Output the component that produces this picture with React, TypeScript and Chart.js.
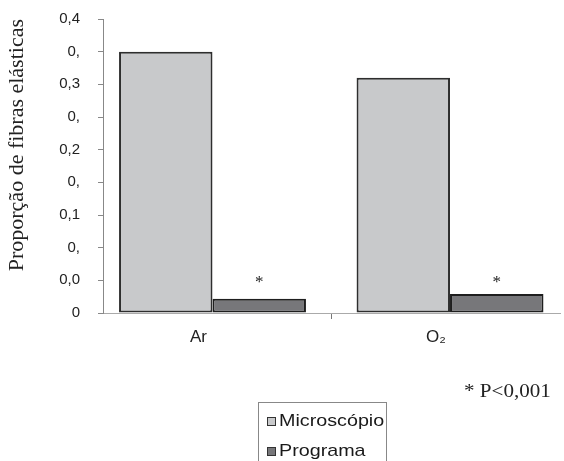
import React, { useEffect, useRef } from "react";
import { Chart, registerables } from "chart.js";

Chart.register(...registerables);

const categories = ["Ar", "O₂"];
const seriesNames = ["Microscópio", "Programa"];
const microscopio = [0.4, 0.36];
const programa = [0.022, 0.029];
const starValues = [0.05, 0.05];
const yTickLabels = ["0", "0,0", "0,", "0,1", "0,", "0,2", "0,", "0,3", "0,", "0,4"];
const noteText = "* P<0,001";
const yTitle = "Proporção de fibras elásticas";

const colors = ["#c8c9cb", "#77777a"];

export default function App() {
  const ref = useRef<HTMLCanvasElement | null>(null);

  useEffect(() => {
    document.body.style.margin = "0";
    const canvas = ref.current;
    if (!canvas) return;

    const starPlugin = {
      id: "stars",
      afterDatasetsDraw(chart: any) {
        const ctx = chart.ctx;
        const meta = chart.getDatasetMeta(1);
        const yScale = chart.scales.y;
        ctx.save();
        ctx.fillStyle = "#222";
        ctx.font = '17px "Liberation Serif", serif';
        ctx.textAlign = "center";
        ctx.textBaseline = "middle";
        meta.data.forEach((bar: any, i: number) => {
          ctx.fillText("*", bar.x, yScale.getPixelForValue(starValues[i]) + 2);
        });
        ctx.restore();
      },
    };

    const chart = new Chart(canvas, {
      type: "bar",
      data: {
        datasets: [
          {
            label: seriesNames[0],
            data: microscopio.map((v, i) => ({ x: i, y: v })),
            backgroundColor: colors[0],
            borderColor: "#2e2e2e",
            borderWidth: 2,
            borderSkipped: false,
          },
          {
            label: seriesNames[1],
            data: programa.map((v, i) => ({ x: i, y: v })),
            backgroundColor: colors[1],
            borderColor: "#1e1e1e",
            borderWidth: 2,
            borderSkipped: false,
          },
        ],
      },
      options: {
        responsive: false,
        animation: false,
        layout: { padding: { left: 0, top: 19, right: 4, bottom: 0 } },
        datasets: {
          bar: { categoryPercentage: 0.787, barPercentage: 1 },
        },
        plugins: {
          legend: { display: false },
          tooltip: { enabled: false },
        },
        scales: {
          x: {
            type: "linear",
            offset: false,
            min: -0.461,
            max: 1.463,
            afterBuildTicks: (s: any) => {
              s.ticks = categories.map((_, i) => ({ value: i }));
            },
            grid: {
              offset: true,
              drawOnChartArea: false,
              tickLength: 6,
              color: "#777777",
            },
            border: { color: "#aaaaaa", width: 1 },
            ticks: {
              padding: 8,
              labelOffset: -14,
              color: "#222",
              maxRotation: 0,
              autoSkip: false,
              font: { family: '"Liberation Sans", Arial, sans-serif', size: 17 },
              callback: (_v: any, i: number) => categories[i],
            },
            afterFit: (s: any) => {
              s.height = 148;
              s.paddingLeft = 0;
              s.paddingRight = 0;
            },
          },
          y: {
            min: 0,
            max: 0.45,
            ticks: {
              stepSize: 0.05,
              padding: 18,
              color: "#222",
              font: { family: '"Liberation Sans", Arial, sans-serif', size: 15 },
              callback: (_v: any, i: number) => yTickLabels[i],
            },
            grid: {
              drawOnChartArea: false,
              tickLength: 5,
              color: "#888888",
            },
            border: { color: "#888888", width: 1 },
            title: {
              display: true,
              text: yTitle,
              align: "end",
              color: "#222",
              padding: { top: 4, bottom: 0 },
              font: { family: '"Liberation Serif", "Times New Roman", serif', size: 22, weight: "normal" },
            },
            afterFit: (s: any) => {
              s.width = 103;
              s.paddingTop = 0;
              s.paddingBottom = 0;
            },
          },
        },
      },
      plugins: [starPlugin],
    });

    return () => chart.destroy();
  }, []);

  return (
    <div style={{ position: "absolute", left: 0, top: 0, width: 564, height: 461, overflow: "hidden", background: "#fff" }}>
      <canvas ref={ref} width={564} height={461} style={{ display: "block" }} />
      <div
        style={{
          position: "absolute",
          left: 464,
          top: 380,
          fontFamily: '"Liberation Serif", "Times New Roman", serif',
          fontSize: 18,
          color: "#222",
          lineHeight: "22px",
          whiteSpace: "nowrap",
          transform: "scaleX(1.17)",
          transformOrigin: "left center",
        }}
      >
        {noteText}
      </div>
      <div
        style={{
          position: "absolute",
          left: 258,
          top: 402,
          width: 129,
          height: 70,
          border: "1px solid #888",
          fontFamily: '"Liberation Sans", Arial, sans-serif',
          fontSize: 17,
          color: "#1a1a1a",
          boxSizing: "border-box",
        }}
      >
        {seriesNames.map((name, i) => (
          <div
            key={name}
            style={{
              position: "absolute",
              left: 8,
              top: 7 + i * 30,
              height: 22,
              display: "flex",
              alignItems: "center",
              whiteSpace: "nowrap",
            }}
          >
            <span
              style={{
                display: "inline-block",
                width: 7,
                height: 7,
                background: colors[i],
                border: "1px solid #333",
                marginRight: 3,
              }}
            />
            <span style={{ display: "inline-block", transform: "scaleX(1.16)", transformOrigin: "left center" }}>{name}</span>
          </div>
        ))}
      </div>
    </div>
  );
}
